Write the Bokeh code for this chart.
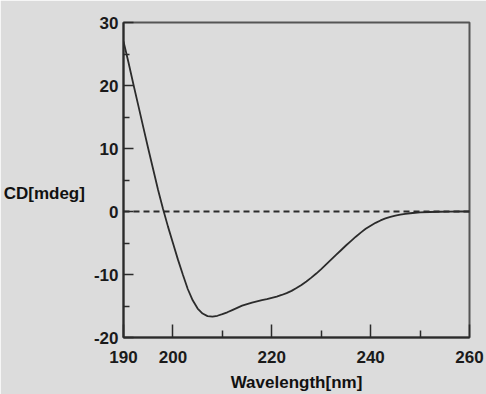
from bokeh.plotting import figure
from bokeh.models import Range1d, FixedTicker, Span
from bokeh.embed import file_html
from bokeh.resources import INLINE

wavelength = [190, 191, 192, 193, 194, 195, 196, 197, 198, 199,
              200, 201, 202, 203, 204, 205, 206, 207, 208, 209,
              210, 211, 212, 213, 214, 215, 216, 217, 218, 219,
              220, 221, 222, 223, 224, 225, 226, 227, 228, 229,
              230, 231, 232, 233, 234, 235, 236, 237, 238, 239,
              240, 241, 242, 243, 244, 245, 246, 247, 248, 249,
              250, 252, 254, 256, 258, 260]
cd = [27.0, 23.7, 20.2, 16.8, 13.4, 10.0, 6.7, 3.4, 0.4, -2.4,
      -5.0, -7.6, -10.0, -12.3, -14.1, -15.4, -16.2, -16.6, -16.7, -16.55,
      -16.3, -16.0, -15.65, -15.3, -14.95, -14.7, -14.45, -14.25, -14.05, -13.9,
      -13.7, -13.5, -13.25, -12.95, -12.6, -12.15, -11.65, -11.1, -10.5, -9.85,
      -9.15, -8.4, -7.65, -6.9, -6.15, -5.4, -4.7, -4.0, -3.35, -2.75,
      -2.25, -1.8, -1.42, -1.1, -0.85, -0.65, -0.5, -0.38, -0.28, -0.2,
      -0.15, -0.08, -0.04, -0.02, 0.0, 0.0]

x_major = [190, 200, 220, 240, 260]
x_minor = [210, 230, 250]
y_major = [-20, -10, 0, 10, 20, 30]
y_minor = [-15, -5, 5, 15, 25]
y_labels = {-20: "-20", -10: "-10", 0: "0", 10: "10", 20: "20", 30: "30"}

BG = "#dcdcdc"
INK = "#2b2b2b"
FONT = "Liberation Sans"

p = figure(width=486, height=394, output_backend="svg", toolbar_location=None,
           x_range=Range1d(190, 260), y_range=Range1d(-20, 30),
           min_border_left=10, min_border_right=17,
           min_border_top=22, min_border_bottom=10)
p.background_fill_color = BG
p.border_fill_color = BG
p.outline_line_color = "#555555"
p.outline_line_width = 2
p.grid.visible = False

for ax in (p.xaxis[0], p.yaxis[0]):
    ax.axis_line_color = INK
    ax.axis_line_width = 2
    ax.major_tick_line_color = INK
    ax.minor_tick_line_color = INK
    ax.major_tick_line_width = 1.5
    ax.minor_tick_line_width = 1.5
    ax.major_tick_out = 0
    ax.minor_tick_out = 0
    ax.major_label_text_font = FONT
    ax.major_label_text_font_style = "bold"
    ax.major_label_text_font_size = "17px"
    ax.major_label_text_color = "#1a1a1a"
    ax.axis_label_text_font = FONT
    ax.axis_label_text_font_style = "bold"
    ax.axis_label_text_font_size = "17px"
    ax.axis_label_text_color = "#111111"

p.xaxis.ticker = FixedTicker(ticks=x_major, minor_ticks=x_minor)
p.yaxis.ticker = FixedTicker(ticks=y_major, minor_ticks=y_minor)
p.yaxis.major_label_overrides = y_labels
p.xaxis.major_tick_in = 13
p.xaxis.minor_tick_in = 7
p.yaxis.major_tick_in = 10
p.yaxis.minor_tick_in = 6
p.xaxis.major_label_standoff = 13
p.yaxis.major_label_standoff = 5

p.xaxis.axis_label = "Wavelength[nm]"
p.xaxis.axis_label_standoff = 7

p.yaxis.axis_label = "\nCD[mdeg]"
p.yaxis.axis_label_orientation = "horizontal"
p.yaxis.axis_label_standoff = 6
p.yaxis.axis_label_text_line_height = 1.4

zero = Span(location=0, dimension="width", line_color=INK, line_width=2,
            line_dash="6 4")
p.add_layout(zero)

p.line(wavelength, cd, line_color=INK, line_width=1.8)

open("out.html", "w").write(file_html(p, INLINE))
